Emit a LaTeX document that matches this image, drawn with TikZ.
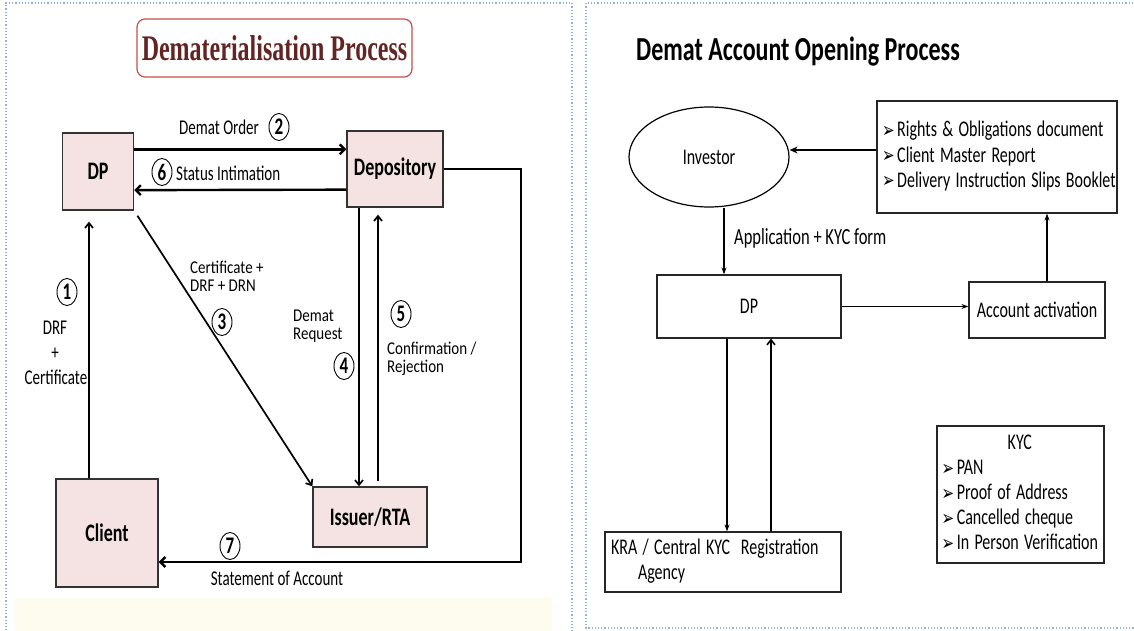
\documentclass[tikz,border=0pt]{standalone}
\usepackage{fontspec}
\setmainfont{Carlito}
\newfontfamily\titleserif{Liberation Serif}
\newfontfamily\dejavu{DejaVu Sans}
\usepackage{graphicx}
\usetikzlibrary{arrows.meta,shapes.geometric,calc}
\newcommand\st[1]{\scalebox{1}[1.4]{#1}}
\newcommand\sts[1]{\scalebox{1}[1.2]{#1}}
\newcommand\stt[1]{\scalebox{1}[1.5]{#1}}
\newcommand\chev{{\dejavu\bfseries\fontsize{15}{15}\selectfont\raisebox{-0.5pt}{➢}}\,}
\definecolor{boxfill}{HTML}{F5E3E3}
\definecolor{titlered}{HTML}{C0504D}
\definecolor{titletext}{HTML}{632523}
\definecolor{panelblue}{HTML}{8DB3E2}
\definecolor{bandyellow}{HTML}{FEFCEE}
\begin{document}
\begin{tikzpicture}[x=1pt,y=-1pt,
  pbox/.style={draw=black!80, fill=boxfill, line width=1.3pt, inner sep=0pt, font=\fontsize{18}{20}\selectfont\bfseries},
  lbl/.style={inner sep=0pt, font=\fontsize{15}{12}\selectfont},
  circ/.style={ellipse, draw, line width=0.9pt, minimum width=20pt, minimum height=27pt, inner sep=0pt, font=\fontsize{17}{17}\selectfont\bfseries},
  arrL/.style={line width=2.4pt, -{Straight Barb[length=5pt,width=10pt]}},
  arrM/.style={line width=1.7pt, -{Straight Barb[length=5pt,width=8pt]}},
  rbox/.style={draw=black!85, line width=1.2pt, inner sep=0pt, font=\fontsize{16}{18}\selectfont},
  rar/.style={line width=1.3pt, -{Stealth[length=7pt,width=5pt]}},
  panel/.style={draw=panelblue, dotted, line width=1.2pt}
]
\useasboundingbox (0,0) rectangle (1134,631);
% panels
\fill[bandyellow] (15,598) rectangle (552,631);
\draw[panel] (6,640) -- (6,3) -- (572,3) -- (572,640);
\draw[panel] (1140,628) -- (586,628) -- (586,3) -- (1140,3);

% ---------- left panel ----------
\node[draw=titlered, rounded corners=8pt, line width=1.2pt, minimum width=275pt, minimum height=58pt, inner sep=0pt,
      font=\titleserif\bfseries\fontsize{24}{24}\selectfont, text=titletext] (lt) at (274.5,48) {\stt{Dematerialisation Process}};
\node[pbox, minimum width=71pt, minimum height=77pt] (dp) at (98,171.5) {\st{DP}};
\node[pbox, minimum width=96pt, minimum height=76pt] (dep) at (395,169) {\st{Depository}};
\node[pbox, minimum width=102pt, minimum height=108pt] (client) at (107,533) {\st{Client}};
\node[pbox, minimum width=114pt, minimum height=60pt] (issuer) at (370,517) {\st{Issuer/RTA}};
\coordinate (c2) at (521,562);

\draw[arrL] ([yshift=-17pt]dp.north east) -- ([yshift=-19pt]dep.north west);
\draw[arrL] ([yshift=18pt]dep.south west) -- ([yshift=20.5pt]dp.south east);
\draw[arrL] (dep.east) -| (c2) -- (client.east |- c2);
\draw[arrM, shorten <=6pt] (dp.south east) -- (issuer.north west);
\draw[arrM] ([xshift=-36pt]dep.south) -- ([xshift=-11pt]issuer.north);
\draw[arrM, shorten <=5pt, shorten >=7pt] ([xshift=8pt]issuer.north) -- ([xshift=-17pt]dep.south);
\draw[arrM, shorten >=11pt] ([xshift=-18pt]client.north) -- ([xshift=-9pt]dp.south);

\node[lbl] (l2) at (219,127) {\st{Demat Order}};
\node[circ] (n2) at (279,127) {\st{2}};
\node[circ] (n6) at (162,172) {\st{6}};
\node[lbl, anchor=west] (l6) at (176,173) {\st{Status Intimation}};
\node[lbl, anchor=west] (l3a) at (190,267) {\sts{Certificate +}};
\node[lbl, anchor=west] (l3b) at (190,286) {\sts{DRF + DRN}};
\node[circ] (n3) at (222,322) {\st{3}};
\node[lbl, anchor=west] (l4a) at (293,316) {\sts{Demat}};
\node[lbl, anchor=west] (l4b) at (293,335) {\sts{Request}};
\node[circ] (n4) at (344,366) {\st{4}};
\node[circ] (n5) at (401,314) {\st{5}};
\node[lbl, anchor=west] (l5a) at (387,349) {\sts{Confirmation /}};
\node[lbl, anchor=west] (l5b) at (387,368) {\sts{Rejection}};
\node[circ] (n1) at (67,292) {\st{1}};
\node[lbl] (l1a) at (55,328) {\st{DRF}};
\node[lbl] (l1b) at (55,354) {\st{+}};
\node[lbl] (l1c) at (56,377) {\st{Certificate}};
\node[circ] (n7) at (230,546) {\st{7}};
\node[lbl] (l7) at (277,578) {\st{Statement of Account}};

% ---------- right panel ----------
\node[font=\fontsize{24}{26}\selectfont\bfseries, inner sep=0pt] (rt) at (798,52) {\st{Demat Account Opening Process}};
\node[draw, ellipse, line width=1.2pt, minimum width=160pt, minimum height=100pt, inner sep=0pt, font=\fontsize{16}{18}\selectfont] (inv) at (709,157) {\st{Investor}};
\node[rbox, minimum width=240pt, minimum height=112pt, text width=230pt, align=left] (docs) at (997,157)
  {\st{\begin{tabular}{@{}l@{}}\chev Rights \& Obligations document\\ \chev Client Master Report\\ \chev Delivery Instruction Slips Booklet\end{tabular}}};
\node[rbox, minimum width=184pt, minimum height=63pt] (dp2) at (749,306.5) {\st{DP}};
\node[rbox, minimum width=136pt, minimum height=56pt] (act) at (1037,310) {\st{Account activation}};
\node[rbox, minimum width=236pt, minimum height=60pt, text width=224pt, align=left] (kra) at (723,562)
  {\st{\begin{tabular}{@{}l@{}}KRA / Central KYC\ \ Registration\\ \hspace{27pt}Agency\end{tabular}}};
\node[rbox, minimum width=167pt, minimum height=137pt, text width=158pt, align=left] (kyc) at (1020.5,494.5)
  {\st{\begin{tabular}{@{}l@{}}\multicolumn{1}{@{}c@{}}{KYC}\\ \chev PAN\\ \chev Proof of Address\\ \chev Cancelled cheque\\ \chev In Person Verification\end{tabular}}};

\draw[line width=2.3pt, -{Stealth[length=8pt,width=7pt]}] ([yshift=7pt]docs.west) -- ([yshift=7pt]inv.east);
\draw[rar] ([xshift=15pt]inv.south) -- ([xshift=-25pt]dp2.north);
\node[font=\fontsize{16.5}{18}\selectfont, anchor=west, inner sep=0pt] (lapp) at (734,238) {\st{Application + KYC form}};
\draw[rar] (dp2.east) -- (act.west |- dp2.east);
\draw[rar] ([xshift=10pt]act.north) -- ([xshift=10pt]act.north |- docs.south);
\draw[rar] ([xshift=-22pt]dp2.south) -- ([xshift=4pt]kra.north);
\draw[line width=1.6pt, -{Straight Barb[length=5pt,width=8pt]}] ([xshift=48pt]kra.north) -- ([xshift=22pt]dp2.south);
\end{tikzpicture}
\end{document}
